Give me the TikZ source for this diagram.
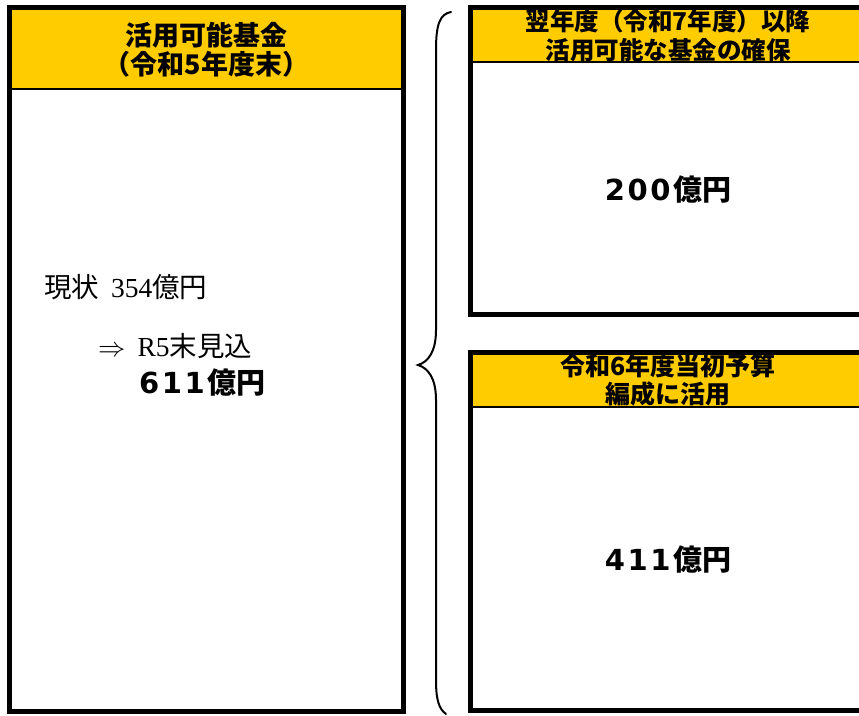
\documentclass[tikz,border=0pt]{standalone}
\usepackage{fontspec}
\setmainfont{Liberation Serif}
\newfontfamily\cjk{Noto Sans CJK JP}
\newfontfamily\cjkl{Noto Sans CJK JP}
\newfontfamily\dig{DejaVu Sans}
\definecolor{hdr}{HTML}{FFCC00}
\newcommand{\dk}{\kern2.5pt}
\newcommand{\bignum}[1]{{\dig\bfseries #1}}
\tikzset{
  box/.style={draw=black, line width=5pt, fill=none, inner sep=0pt, outer sep=0pt},
  hdrfill/.style={fill=hdr, draw=none, inner sep=0pt, outer sep=0pt},
  hdrline/.style={draw=black, line width=2.5pt},
  htxt/.style={font=\cjk\bfseries, align=center, inner sep=0pt},
  bigtxt/.style={font=\cjk\bfseries\fontsize{29}{32}\selectfont, inner sep=0pt},
  bodytxt/.style={font=\fontsize{27.5}{30}\selectfont, inner sep=0pt, anchor=west},
  bracestyle/.style={draw=black, line width=2pt, line cap=round}
}
\begin{document}
\begin{tikzpicture}[x=1pt,y=-1pt]
\useasboundingbox (0,0) rectangle (859,715);
% left box
\node[hdrfill, anchor=north west, minimum width=394pt, minimum height=81.5pt] (LH) at (9.5,7.5) {};
\draw[hdrline] (9.5,89) -- (403.5,89);
\node[box, anchor=north west, minimum width=394pt, minimum height=703.5pt] (L) at (9.5,7.5) {};
\node[htxt, font=\cjk\bfseries\fontsize{27}{29}\selectfont] (LT) at (206.5,49.5) {活用可能基金\\（令和5年度末）};
% left body
\node[bodytxt] (cur) at (44,287) {{\cjkl 現状}\kern12pt 354{\cjkl 億円}};
\node[bodytxt] (prj) at (98,346) {\scalebox{1.1}{$\Rightarrow$}\kern12pt R5{\cjkl 末見込}};
\node[bigtxt, anchor=west] (v611) at (139,383) {\bignum{6\dk1\dk1}\dk 億円};
% top right box
\node[hdrfill, anchor=north west, minimum width=430pt, minimum height=54.5pt] (TH) at (470.5,7.5) {};
\node[htxt, font=\cjk\bfseries\fontsize{24.5}{29}\selectfont] (TT) at (668,36) {翌年度（令和7年度）以降\\活用可能な基金の確保};
\draw[hdrline] (470.5,62) -- (900,62);
\fill[white] (473,63.25) rectangle (859,75);
\node[box, anchor=north west, minimum width=430pt, minimum height=307pt] (T) at (470.5,7.5) {};
\node[bigtxt] (v200) at (668,190) {\bignum{2\dk0\dk0}\dk 億円};
% bottom right box
\node[hdrfill, anchor=north west, minimum width=430pt, minimum height=54.5pt] (BH) at (470.5,352.5) {};
\node[htxt, font=\cjk\bfseries\fontsize{25}{28}\selectfont] (BT) at (668,380) {令和6年度当初予算\\編成に活用};
\draw[hdrline] (470.5,407) -- (900,407);
\fill[white] (473,408.25) rectangle (859,420);
\node[box, anchor=north west, minimum width=430pt, minimum height=358pt] (B) at (470.5,352.5) {};
\node[bigtxt] (v411) at (668,560) {\bignum{4\dk1\dk1}\dk 億円};
% brace
\coordinate (bt) at (451,12);
\coordinate (bm) at (418,365);
\coordinate (bb) at (446,714);
\draw[bracestyle] (bt) .. controls (440,14) and (436,24) .. (436,50) -- (436,330)
  .. controls (436,352) and (428,362) .. (bm)
  .. controls (428,368) and (436,378) .. (436,400) -- (436,680)
  .. controls (436,700) and (439,709) .. (bb);
\end{tikzpicture}
\end{document}
